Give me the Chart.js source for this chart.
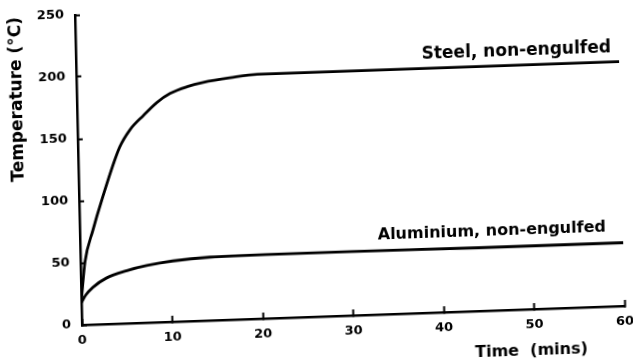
<!DOCTYPE html>
<html>
<head>
<meta charset="utf-8">
<script src="https://cdn.jsdelivr.net/npm/chart.js@4/dist/chart.umd.min.js"></script>
<style>
  html, body { margin: 0; padding: 0; background: #fff; overflow: hidden; width: 633px; height: 359px; }
  /* the scanned figure is slightly sheared: x axis climbs to the right, y axis leans left */
  #myChart { display: block; transform-origin: 82px 325px; transform: matrix(1, -0.035, 0.0226, 1, 0, 0); }
</style>
</head>
<body>
<canvas id="myChart" width="633" height="385"></canvas>
<script>
var xTicks = [0, 10, 20, 30, 40, 50, 60];
var yTicks = [0, 50, 100, 150, 200, 250];

// Steel, non-engulfed
var steelTime = [0, 0.5, 1.45, 2.5, 4.6, 5.8, 7.3, 8.8, 10.3, 12.2, 14, 17, 20, 24, 30, 40, 50, 60];
var steelTemp = [20, 51, 76, 100, 142, 156, 167, 177, 184, 189, 192, 195, 197, 197, 197, 197, 197, 197];

// Aluminium, non-engulfed
var aluTime = [0, 0.5, 1.3, 2.8, 5.1, 7.3, 10.2, 14.3, 20.5, 30, 44, 60];
var aluTemp = [18, 24, 30, 37, 42.5, 46, 49, 51, 51.5, 51.5, 51, 51];

var seriesNames = ["Steel, non-engulfed", "Aluminium, non-engulfed"];
var xTitle = "Time  (mins)";
var yTitle = "Temperature (\u00b0C)";

function toPoints(xs, ys) {
    return xs.map(function (t, i) { return { x: t, y: ys[i] }; });
}

var font = '"DejaVu Sans", sans-serif';

// text next to each curve, anchored in data units
var curveLabelPlugin = {
    id: 'curveLabels',
    afterDraw: function (chart) {
        var ctx = chart.ctx;
        var x = chart.scales.x, y = chart.scales.y;
        var anchors = [[38.2, 205], [32.9, 60.5]];
        var sizes = [17, 16];
        ctx.save();
        ctx.fillStyle = '#000';
        ctx.textAlign = 'left';
        ctx.textBaseline = 'alphabetic';
        seriesNames.forEach(function (name, i) {
            ctx.font = 'bold ' + sizes[i] + 'px ' + font;
            ctx.fillText(name, x.getPixelForValue(anchors[i][0]), y.getPixelForValue(anchors[i][1]));
        });
        ctx.font = 'bold 16px ' + font;
        ctx.textAlign = 'center';
        ctx.fillText(xTitle, x.getPixelForValue(49.6), chart.chartArea.bottom + 46);
        ctx.restore();
    }
};

var data = {
    datasets: [
        {
            label: seriesNames[0],
            data: toPoints(steelTime, steelTemp),
            borderColor: "#000",
            borderWidth: 2.8,
            pointRadius: 0,
            fill: false,
            cubicInterpolationMode: 'monotone'
        },
        {
            label: seriesNames[1],
            data: toPoints(aluTime, aluTemp),
            borderColor: "#000",
            borderWidth: 2.8,
            pointRadius: 0,
            fill: false,
            cubicInterpolationMode: 'monotone'
        }
    ]
};

var ctx = document.getElementById("myChart").getContext("2d");
var myLineChart = new Chart(ctx, {
    type: 'line',
    data: data,
    plugins: [curveLabelPlugin],
    options: {
        responsive: false,
        animation: false,
        layout: { autoPadding: false, padding: { top: 15, right: 8, left: 12, bottom: 0 } },
        plugins: { legend: { display: false }, tooltip: { enabled: false } },
        scales: {
            x: {
                type: 'linear',
                min: 0,
                max: 60,
                afterBuildTicks: function (scale) {
                    scale.ticks = xTicks.map(function (v) { return { value: v }; });
                },
                afterFit: function (scale) {
                    scale.height = 60;
                    scale.paddingLeft = 0; scale.paddingRight = 0;
                },
                grid: { drawOnChartArea: false, tickLength: -6, tickWidth: 2, color: '#000' },
                border: { color: '#000', width: 2.5 },
                ticks: { color: '#000', padding: 14, font: { family: font, size: 13, weight: 'bold' } }
            },
            y: {
                type: 'linear',
                min: 0,
                max: 250,
                afterBuildTicks: function (scale) {
                    scale.ticks = yTicks.map(function (v) { return { value: v }; });
                },
                afterFit: function (scale) {
                    scale.width = 70;
                    scale.paddingTop = 0; scale.paddingBottom = 0;
                },
                grid: { drawOnChartArea: false, tickLength: -5, tickWidth: 2, color: '#000' },
                border: { color: '#000', width: 2.5 },
                ticks: { color: '#000', padding: 16, font: { family: font, size: 13, weight: 'bold' } },
                title: {
                    display: true,
                    text: yTitle,
                    align: 'end',
                    color: '#000',
                    padding: { top: 0, bottom: 3 },
                    font: { family: font, size: 17, weight: 'bold' }
                }
            }
        }
    }
});
</script>
</body>
</html>
